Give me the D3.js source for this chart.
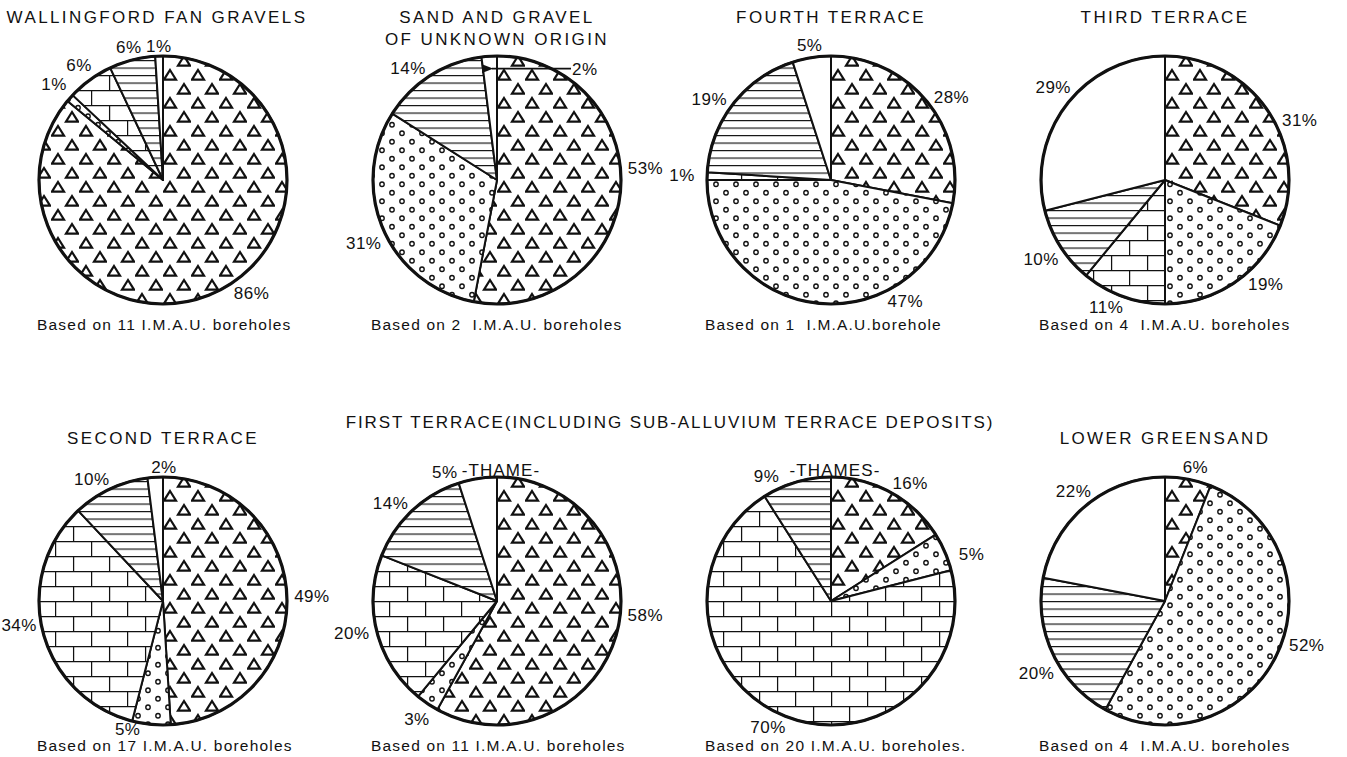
<!DOCTYPE html>
<html><head><meta charset="utf-8">
<script src="https://cdn.jsdelivr.net/npm/d3@7"></script>
<style>
html,body{margin:0;padding:0;background:#fff;}
svg{display:block;}
text{font-family:"Liberation Sans", Arial, Helvetica, sans-serif; fill:#111; white-space:pre;}
</style></head><body>
<svg id="chart" width="1347" height="757"></svg>
<script>
// ---------------- DATA ----------------
const panelTitles = [
  ["WALLINGFORD FAN GRAVELS"],
  ["SAND AND GRAVEL", "OF UNKNOWN ORIGIN"],
  ["FOURTH TERRACE"],
  ["THIRD TERRACE"],
  ["SECOND TERRACE"],
  ["-THAME-"],
  ["-THAMES-"],
  ["LOWER GREENSAND"]
];
const groupTitle = "FIRST TERRACE(INCLUDING SUB-ALLUVIUM TERRACE DEPOSITS)";
const footnotes = [
  "Based on 11 I.M.A.U. boreholes",
  "Based on 2  I.M.A.U. boreholes",
  "Based on 1  I.M.A.U.borehole",
  "Based on 4  I.M.A.U. boreholes",
  "Based on 17 I.M.A.U. boreholes",
  "Based on 11 I.M.A.U. boreholes",
  "Based on 20 I.M.A.U. boreholes.",
  "Based on 4  I.M.A.U. boreholes"
];
const categories = ["triangles", "dots", "bricks", "hatch", "blank"];
const triangleShare = [86, 53, 28, 31, 49, 58, 16, 6];
const dotShare      = [ 1, 31, 47, 19,  5,  3,  5, 52];
const brickShare    = [ 6,  0,  1, 11, 34, 20, 70,  0];
const hatchShare    = [ 6, 14, 19, 10, 10, 14,  9, 20];
const blankShare    = [ 1,  2,  5, 29,  2,  5,  0, 22];

// ---------------- LAYOUT ----------------
const W = 1347, H = 757, R = 124;
const colX = d3.scalePoint().domain([0,1,2,3]).range([163, 1165]);
const rowY = d3.scalePoint().domain([0,1]).range([180, 601]);
// label angle nudges (degrees) and radial offsets (px) per pie, per category
const labelNudge = [
  [-13, 0, 0, 0, 0],
  [-10, -2, 0, -6, 0],
  [5, -37, 0, -4, 0],
  [10, -10, 5, 0, 2],
  [0, 10, 5, -5, 4],
  [-9, 0, 2, -4, -13],
  [5, 5, 5, -11, 0],
  [2, -8, 0, -4, 0]
];
const labelRadial = [
  [0, 0, 0, 0, 0],
  [0, 0, 0, 0, 0],
  [0, 0, 0, 0, 0],
  [0, 0, 0, 0, 0],
  [0, -5, -3, 0, 0],
  [0, 0, 0, 0, 0],
  [0, 0, 0, 0, 0],
  [0, 0, 0, 0, 0]
];
const leaderLabels = [{pie: 1, cat: "blank"}];

const svg = d3.select("#chart");
const defs = svg.append("defs");

// patterns
const pTri = defs.append("pattern").attr("id", "pat-triangles")
  .attr("patternUnits", "userSpaceOnUse").attr("width", 28).attr("height", 28);
pTri.append("rect").attr("width", 28).attr("height", 28).attr("fill", "#fff");
const tri = (cx, cy) => `M${cx},${cy-5} L${cx+6},${cy+4.6} L${cx-6},${cy+4.6} Z`;
pTri.append("path").attr("d", tri(7, 7) + tri(21, 21))
  .attr("fill", "none").attr("stroke", "#111").attr("stroke-width", 2.2).attr("stroke-linejoin", "miter");

const pDot = defs.append("pattern").attr("id", "pat-dots")
  .attr("patternUnits", "userSpaceOnUse").attr("width", 20).attr("height", 17);
pDot.append("rect").attr("width", 20).attr("height", 17).attr("fill", "#fff");
[[5, 4.25], [15, 12.75]].forEach(([x, y]) =>
  pDot.append("circle").attr("cx", x).attr("cy", y).attr("r", 2.2)
    .attr("fill", "none").attr("stroke", "#111").attr("stroke-width", 1.4));

const pBrick = defs.append("pattern").attr("id", "pat-bricks")
  .attr("patternUnits", "userSpaceOnUse").attr("width", 36).attr("height", 30);
pBrick.append("rect").attr("width", 36).attr("height", 30).attr("fill", "#fff");
pBrick.append("path").attr("d", "M0,0.6H36M0,15.6H36M0.6,0V15.6M18.6,15.6V30")
  .attr("fill", "none").attr("stroke", "#111").attr("stroke-width", 1.25);

const pHatch = defs.append("pattern").attr("id", "pat-hatch")
  .attr("patternUnits", "userSpaceOnUse").attr("width", 10).attr("height", 7.5);
pHatch.append("rect").attr("width", 10).attr("height", 7.5).attr("fill", "#fff");
pHatch.append("path").attr("d", "M0,0.6H10").attr("stroke", "#111").attr("stroke-width", 1.15);

const fills = {triangles: "url(#pat-triangles)", dots: "url(#pat-dots)", bricks: "url(#pat-bricks)", hatch: "url(#pat-hatch)", blank: "#fff"};

defs.append("marker").attr("id", "arrowhead").attr("viewBox", "0 0 10 10")
  .attr("refX", 1).attr("refY", 5).attr("markerWidth", 7).attr("markerHeight", 7)
  .attr("orient", "auto-start-reverse")
  .append("path").attr("d", "M10,1 L0,5 L10,9 Z").attr("fill", "#111");

const pie = d3.pie().sort(null).value(d => d.value).startAngle(0).endAngle(2 * Math.PI);
const arc = d3.arc().innerRadius(0).outerRadius(R);

const series = [triangleShare, dotShare, brickShare, hatchShare, blankShare];

for (let i = 0; i < 8; i++) {
  const cx = colX(i % 4), cy = rowY(Math.floor(i / 4));
  const values = categories.map((c, k) => ({cat: c, k, value: series[k][i]})).filter(d => d.value > 0);
  const arcs = pie(values);
  const g = svg.append("g").attr("transform", `translate(${cx},${cy})`);

  g.selectAll("path.slice").data(arcs).enter().append("path")
    .attr("class", "slice")
    .attr("d", arc)
    .attr("fill", d => fills[d.data.cat])
    .attr("stroke", "#111").attr("stroke-width", 2).attr("stroke-linejoin", "round");

  g.append("circle").attr("r", R).attr("fill", "none").attr("stroke", "#111").attr("stroke-width", 3.2);

  // percentage labels
  arcs.forEach(a => {
    const isLeader = leaderLabels.some(l => l.pie === i && l.cat === a.data.cat);
    const mid = (a.startAngle + a.endAngle) / 2;
    if (isLeader) {
      const tx = 0.9 * R * Math.sin(mid), ty = -0.9 * R * Math.cos(mid);
      g.append("line").attr("x1", 74).attr("y1", ty).attr("x2", tx + 2).attr("y2", ty)
        .attr("stroke", "#111").attr("stroke-width", 1.6).attr("marker-end", "url(#arrowhead)");
      g.append("text").attr("x", 75).attr("y", ty).attr("dy", "0.36em")
        .attr("font-size", 17).attr("letter-spacing", 0.5).text(a.data.value + "%");
      return;
    }
    const ang = mid + labelNudge[i][a.data.k] * Math.PI / 180;
    const d = R + 10 + 15 * Math.abs(Math.sin(ang)) + labelRadial[i][a.data.k];
    g.append("text")
      .attr("x", d * Math.sin(ang)).attr("y", -d * Math.cos(ang))
      .attr("dy", "0.36em").attr("text-anchor", "middle")
      .attr("font-size", 17).attr("letter-spacing", 0.5)
      .text(a.data.value + "%");
  });

  // titles
  const isSub = (i === 5 || i === 6);
  panelTitles[i].forEach((t, li) => {
    const y = isSub ? cy - R - 1 : cy - 157 + li * 22;
    svg.append("text").attr("x", cx + (isSub ? 4 : (i === 0 ? -6 : 0))).attr("y", y)
      .attr("text-anchor", "middle").attr("font-size", 17)
      .attr("letter-spacing", isSub ? 1.1 : 2.4)
      .text(t);
  });

  // footnotes
  svg.append("text").attr("x", cx - R - 2).attr("y", cy + 150)
    .attr("font-size", 15.5).attr("letter-spacing", 1.2)
    .text(footnotes[i]);
}

svg.append("text").attr("x", (colX(1) + colX(2)) / 2 + 6).attr("y", 428)
  .attr("text-anchor", "middle").attr("font-size", 17).attr("letter-spacing", 1.9)
  .text(groupTitle);
</script>
</body></html>
